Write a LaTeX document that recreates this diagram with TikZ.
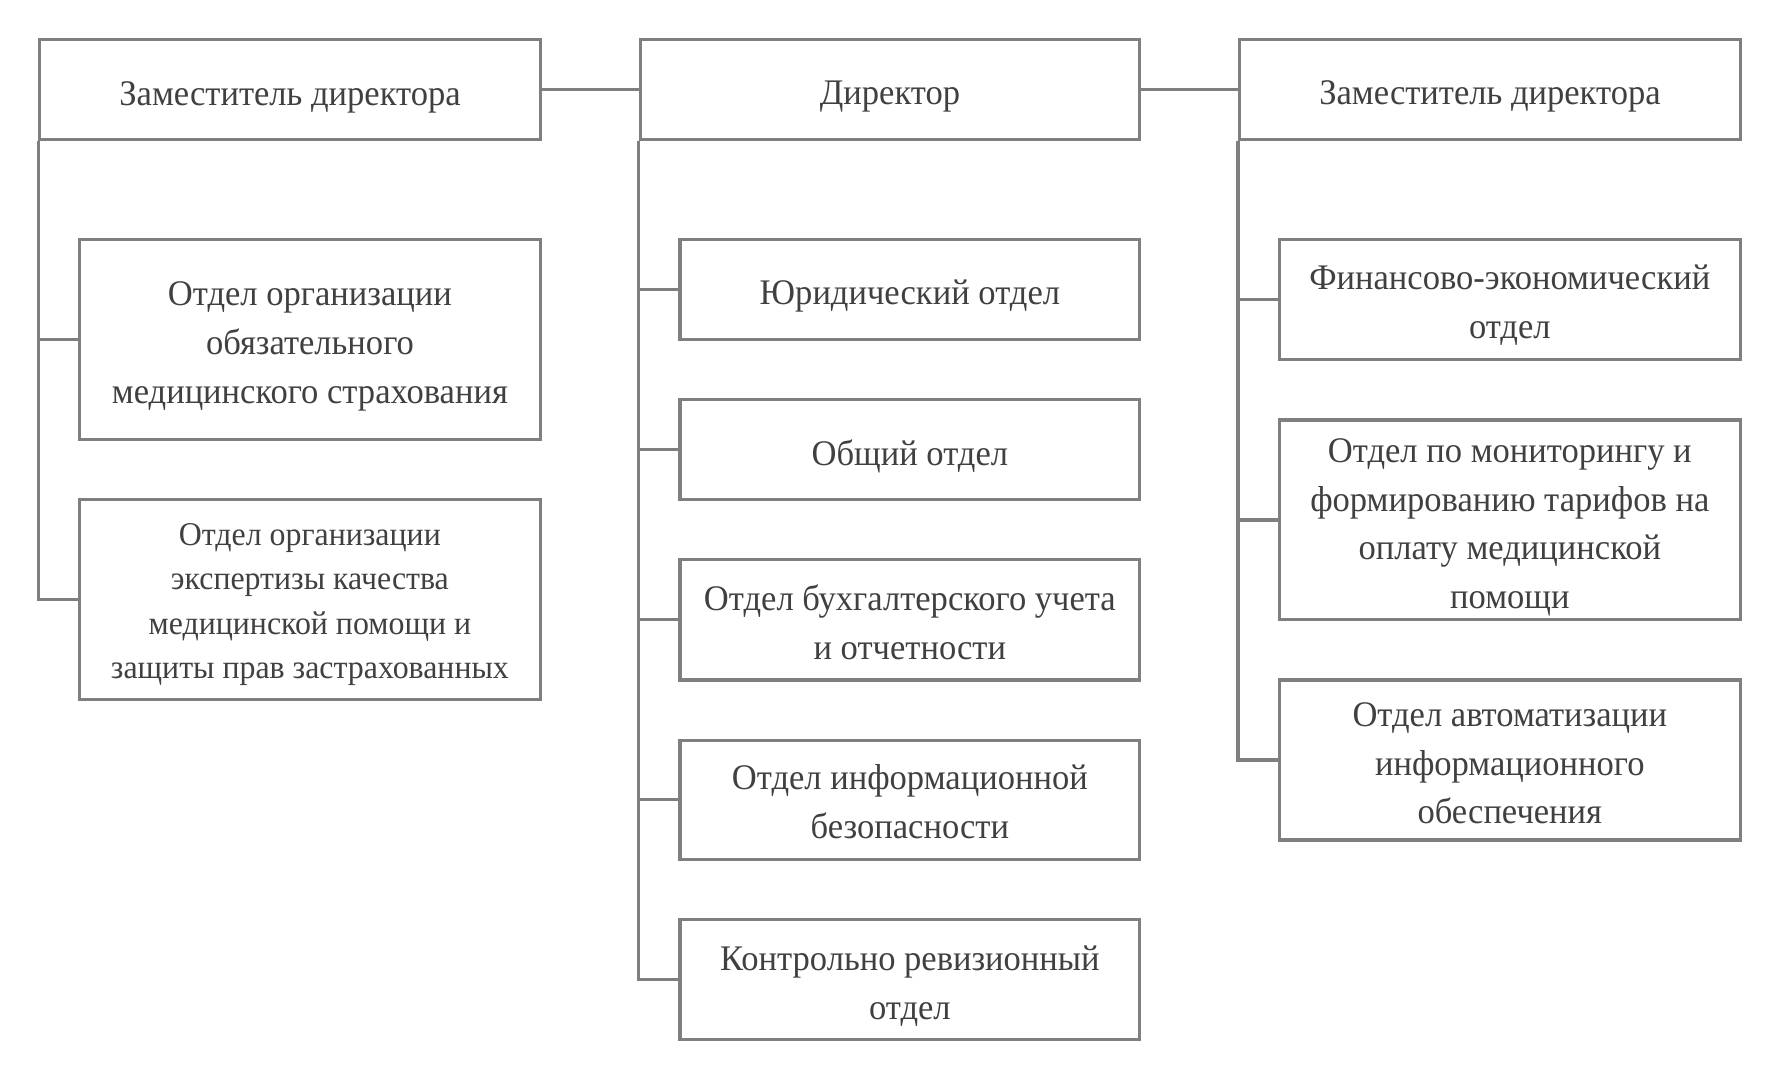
\documentclass[tikz,border=0pt]{standalone}
\usepackage{fontspec}
\setmainfont[FakeStretch=0.96]{Liberation Serif}
\definecolor{linegray}{HTML}{7F7F7F}
\definecolor{textgray}{HTML}{404040}
\tikzset{
  box/.style={draw=linegray, line width=1.6pt, rectangle, inner sep=0pt},
  txt/.style={inner sep=0pt, align=center, text=textgray, font=\fontsize{18}{24.4}\selectfont},
  smalltxt/.style={txt, font=\fontsize{16.6}{22.2}\selectfont},
  conn/.style={draw=linegray, line width=1.6pt}
}
\begin{document}
\begin{tikzpicture}[x=0.5676pt, y=-0.5676pt]
\useasboundingbox (0,0) rectangle (1568,951);
% top row
\node[box, minimum width=441*0.5676pt, minimum height=88*0.5676pt] (topL) at (255.5,79) {};
\node[txt] (topLt) at ([yshift=-3.8pt]topL.center) {Заместитель директора};
\node[box, minimum width=440*0.5676pt, minimum height=88*0.5676pt] (dir) at (784,79) {};
\node[txt] (dirt) at ([yshift=-3.4pt]dir.center) {Директор};
\node[box, minimum width=441*0.5676pt, minimum height=88*0.5676pt] (topR) at (1312.5,79) {};
\node[txt] (topRt) at ([yshift=-3.4pt]topR.center) {Заместитель директора};
% left column
\node[box, minimum width=406*0.5676pt, minimum height=176*0.5676pt] (L1) at (273,299) {};
\node[txt] (L1t) at ([yshift=-3.4pt]L1.center) {Отдел организации\\обязательного\\медицинского страхования};
\node[box, minimum width=406*0.5676pt, minimum height=176*0.5676pt] (L2) at (273,528) {};
\node[smalltxt] (L2t) at ([yshift=-2.5pt]L2.center) {Отдел организации\\экспертизы качества\\медицинской помощи и\\защиты прав застрахованных};
% middle column
\node[box, minimum width=405*0.5676pt, minimum height=88*0.5676pt] (M1) at (801.5,255) {};
\node[txt] (M1t) at ([yshift=-3.4pt]M1.center) {Юридический отдел};
\node[box, minimum width=405*0.5676pt, minimum height=88*0.5676pt] (M2) at (801.5,396) {};
\node[txt] (M2t) at ([yshift=-3.4pt]M2.center) {Общий отдел};
\node[box, minimum width=405*0.5676pt, minimum height=106*0.5676pt] (M3) at (801.5,546) {};
\node[txt] (M3t) at ([yshift=-1.1pt]M3.center) {Отдел бухгалтерского учета\\и отчетности};
\node[box, minimum width=405*0.5676pt, minimum height=105*0.5676pt] (M4) at (801.5,704.5) {};
\node[txt] (M4t) at ([yshift=-1.1pt]M4.center) {Отдел информационной\\безопасности};
\node[box, minimum width=405*0.5676pt, minimum height=106*0.5676pt] (M5) at (801.5,863) {};
\node[txt] (M5t) at ([yshift=-3.1pt]M5.center) {Контрольно ревизионный\\отдел};
% right column
\node[box, minimum width=406*0.5676pt, minimum height=106*0.5676pt] (R1) at (1330,264) {};
\node[txt] (R1t) at ([yshift=-2.8pt]R1.center) {Финансово-экономический\\отдел};
\node[box, minimum width=406*0.5676pt, minimum height=176*0.5676pt] (R2) at (1330,458) {};
\node[txt] (R2t) at ([yshift=-3.7pt]R2.center) {Отдел по мониторингу и\\формированию тарифов на\\оплату медицинской\\помощи};
\node[box, minimum width=406*0.5676pt, minimum height=141*0.5676pt] (R3) at (1330,669.5) {};
\node[txt] (R3t) at ([yshift=-1.7pt]R3.center) {Отдел автоматизации\\информационного\\обеспечения};
% connectors top
\draw[conn] (topL.east) -- (dir.west);
\draw[conn] (dir.east) -- (topR.west);
% left tree
\draw[conn] (topL.south west) |- (L2.west);
\draw[conn] (topL.south west |- L1.west) -- (L1.west);
% middle tree
\draw[conn] (dir.south west) |- (M5.west);
\draw[conn] (dir.south west |- M1.west) -- (M1.west);
\draw[conn] (dir.south west |- M2.west) -- (M2.west);
\draw[conn] (dir.south west |- M3.west) -- (M3.west);
\draw[conn] (dir.south west |- M4.west) -- (M4.west);
% right tree
\draw[conn] (topR.south west) |- (R3.west);
\draw[conn] (topR.south west |- R1.west) -- (R1.west);
\draw[conn] (topR.south west |- R2.west) -- (R2.west);
\end{tikzpicture}
\end{document}
